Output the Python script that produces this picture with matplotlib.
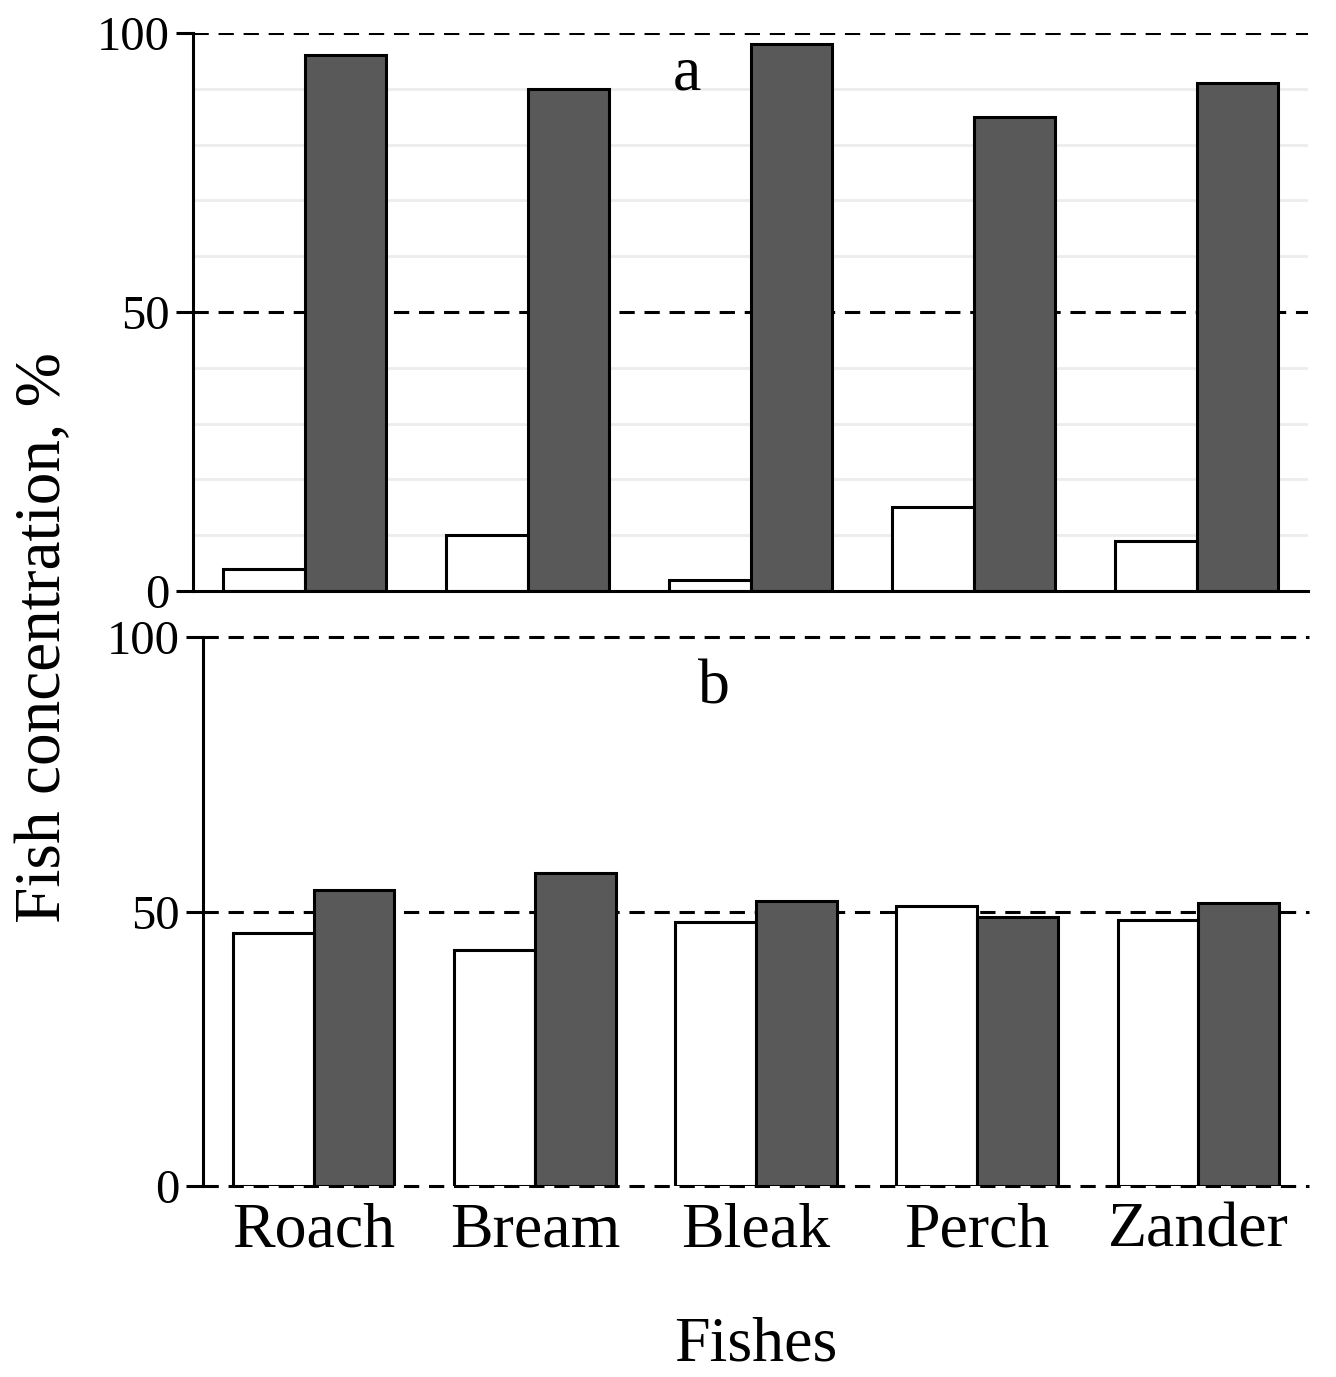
import matplotlib
matplotlib.use("Agg")
import matplotlib.pyplot as plt
import numpy as np

plt.rcParams['font.family'] = ['Liberation Serif', 'DejaVu Serif']

fishes = ["Roach", "Bream", "Bleak", "Perch", "Zander"]
# panel a
a_white = [4, 10, 2, 15, 9]
a_dark = [96, 90, 98, 85, 91]
# panel b
b_white = [46, 43, 48, 51, 48.5]
b_dark = [54, 57, 52, 49, 51.5]

dark = "#595959"
dash = (0, (5, 3.2))
bw = 0.365
x = np.arange(len(fishes))

fig = plt.figure(figsize=(13.36, 13.77), dpi=100)
ax1 = fig.add_axes([0.1445, 0.5708, 0.8346, 0.4052])
ax2 = fig.add_axes([0.152, 0.1387, 0.8278, 0.3987])


def style_axis(ax, minor_grid):
    ax.set_xlim(-0.5, 4.5)
    ax.set_ylim(0, 100)
    ax.set_yticks([0, 50, 100])
    ax.set_axisbelow(True)
    if minor_grid:
        for v in [10, 20, 30, 40, 60, 70, 80, 90]:
            ax.axhline(v, color="#ececec", lw=2, zorder=0)
    for sp in ["top", "right"]:
        ax.spines[sp].set_visible(False)
    ax.spines["left"].set_linewidth(2.2)
    ax.tick_params(axis="y", direction="out", length=12, width=2.2, labelsize=35, pad=5)
    ax.tick_params(axis="x", length=0)


# top panel
style_axis(ax1, True)
for v in [50, 100]:
    ax1.axhline(v, color="black", lw=2.2, linestyle=dash, zorder=0.5)
ax1.spines["bottom"].set_linewidth(2.2)
ax1.bar(x - bw / 2, a_white, bw, color="white", edgecolor="black", linewidth=2.2, zorder=2)
ax1.bar(x + bw / 2, a_dark, bw, color=dark, edgecolor="black", linewidth=2.2, zorder=2)
ax1.set_xticks([])
ax1.text(0.443, 0.925, "a", transform=ax1.transAxes, fontsize=46, ha="center", va="center")

# bottom panel
style_axis(ax2, False)
ax2.spines["bottom"].set_visible(False)
for v in [0, 50, 100]:
    ax2.axhline(v, color="black", lw=2.2, linestyle=dash, zorder=0.5, clip_on=False)
ax2.bar(x - bw / 2, b_white, bw, color="white", edgecolor="black", linewidth=2.2, zorder=2)
ax2.bar(x + bw / 2, b_dark, bw, color=dark, edgecolor="black", linewidth=2.2, zorder=2)
ax2.set_xticks(x)
ax2.set_xticklabels(fishes, fontsize=46)
ax2.tick_params(axis="x", pad=12)
ax2.text(0.4615, 0.907, "b", transform=ax2.transAxes, fontsize=46, ha="center", va="center")
ax2.set_xlabel("Fishes", fontsize=46, labelpad=40)

fig.text(0.033, 0.537, "Fish concentration, %", rotation=90, fontsize=47, ha="center", va="center")

plt.savefig("out.png", dpi=100)
